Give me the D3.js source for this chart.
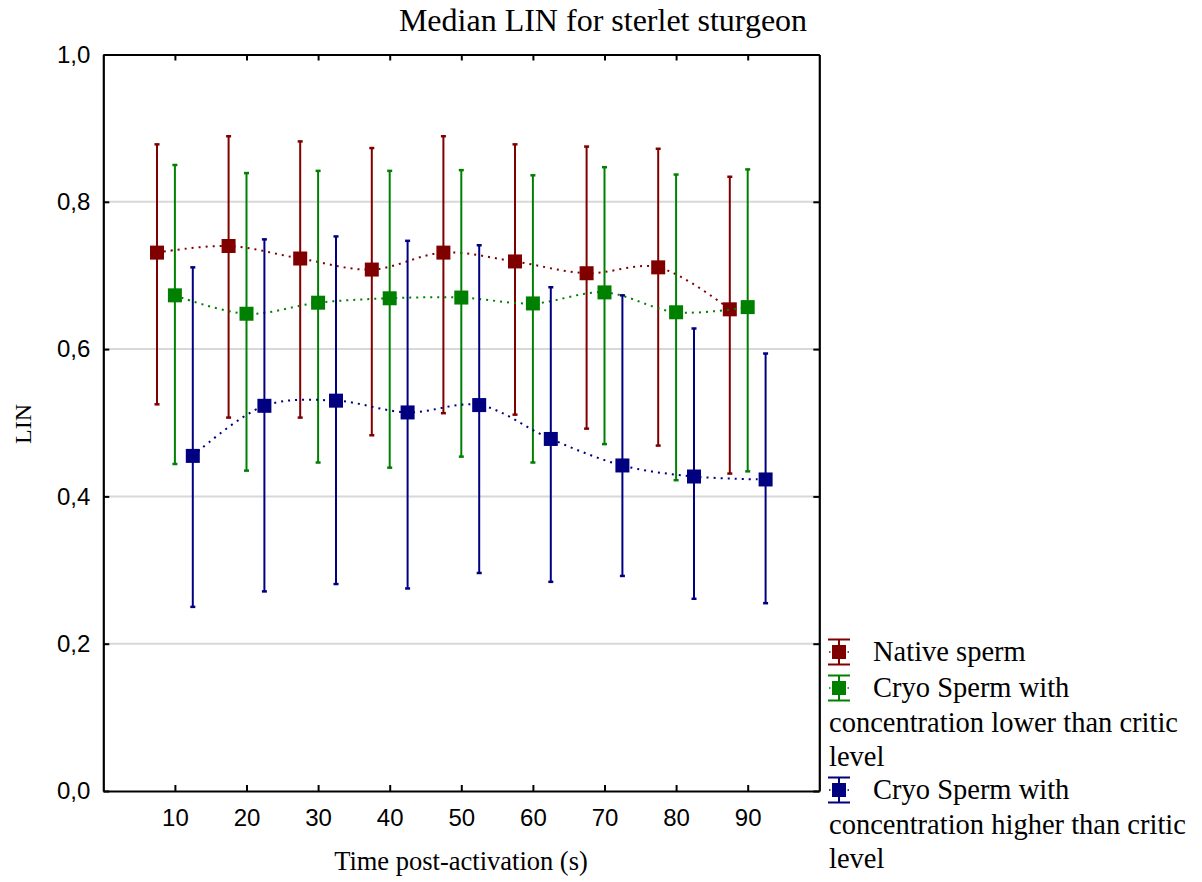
<!DOCTYPE html>
<html>
<head>
<meta charset="utf-8">
<script src="https://cdn.jsdelivr.net/npm/d3@7"></script>
<style>
  body { margin: 0; background: #fff; }
  svg { display: block; }
</style>
</head>
<body>
<svg id="chart" width="1202" height="882"></svg>
<script>
// ---- data ----
const times = [10, 20, 30, 40, 50, 60, 70, 80, 90];
const xTicks = [10, 20, 30, 40, 50, 60, 70, 80, 90];
const yTicks = [0, 0.2, 0.4, 0.6, 0.8, 1.0];

const nativeMedian = [0.731, 0.740, 0.723, 0.708, 0.731, 0.719, 0.703, 0.711, 0.654];
const nativeLow    = [0.525, 0.507, 0.507, 0.483, 0.513, 0.511, 0.492, 0.469, 0.431];
const nativeHigh   = [0.878, 0.889, 0.882, 0.873, 0.889, 0.878, 0.875, 0.872, 0.834];

const cryoLowMedian = [0.673, 0.648, 0.663, 0.669, 0.670, 0.662, 0.677, 0.650, 0.657];
const cryoLowLow    = [0.444, 0.435, 0.446, 0.439, 0.454, 0.446, 0.471, 0.422, 0.434];
const cryoLowHigh   = [0.850, 0.839, 0.842, 0.842, 0.843, 0.836, 0.847, 0.837, 0.844];

const cryoHighMedian = [0.455, 0.523, 0.530, 0.514, 0.524, 0.478, 0.442, 0.427, 0.423];
const cryoHighLow    = [0.250, 0.271, 0.281, 0.275, 0.296, 0.284, 0.292, 0.261, 0.255];
const cryoHighHigh   = [0.711, 0.749, 0.753, 0.747, 0.741, 0.684, 0.673, 0.628, 0.594];

const seriesNames = ["Native sperm", "Cryo Sperm with concentration lower than critic level", "Cryo Sperm with concentration higher than critic level"];
const seriesOffsets = [-2.5, 0, 2.5];
const seriesColors = ["#800000", "#008000", "#000080"];

const titleText = "Median LIN for sterlet sturgeon";
const xLabel = "Time post-activation (s)";
const yLabel = "LIN";

// ---- build ----
const series = [
  {name: seriesNames[0], med: nativeMedian, lo: nativeLow, hi: nativeHigh, off: seriesOffsets[0], color: seriesColors[0]},
  {name: seriesNames[1], med: cryoLowMedian, lo: cryoLowLow, hi: cryoLowHigh, off: seriesOffsets[1], color: seriesColors[1]},
  {name: seriesNames[2], med: cryoHighMedian, lo: cryoHighLow, hi: cryoHighHigh, off: seriesOffsets[2], color: seriesColors[2]}
];

const svg = d3.select("#chart");
const plot = {left: 103.3, right: 819.3, top: 54.5, bottom: 791};

const x = d3.scaleLinear().domain([0, 100]).range([plot.left, plot.right]);
const y = d3.scaleLinear().domain([0, 1]).range([plot.bottom, plot.top]);

const serif = "'Liberation Serif', 'Times New Roman', serif";
const sans = "'Liberation Sans', Arial, sans-serif";

// gridlines
svg.append("g").selectAll("line").data(yTicks.filter(v => v > 0 && v < 1)).join("line")
  .attr("x1", plot.left).attr("x2", plot.right)
  .attr("y1", d => y(d)).attr("y2", d => y(d))
  .attr("stroke", "#d8d8d8").attr("stroke-width", 2);

// axes (ticks inward)
const fmt = d => d3.format(".1f")(d).replace(".", ",");
const axBottom = svg.append("g").attr("transform", `translate(0,${plot.bottom})`)
  .call(d3.axisBottom(x).tickValues(xTicks).tickSizeInner(-6).tickSizeOuter(0).tickPadding(18));
const axTop = svg.append("g").attr("transform", `translate(0,${plot.top})`)
  .call(d3.axisTop(x).tickValues(xTicks).tickSizeInner(-6).tickSizeOuter(0).tickFormat(""));
const axLeft = svg.append("g").attr("transform", `translate(${plot.left},0)`)
  .call(d3.axisLeft(y).tickValues(yTicks).tickSizeInner(-6).tickSizeOuter(0).tickPadding(13).tickFormat(fmt));
const axRight = svg.append("g").attr("transform", `translate(${plot.right},0)`)
  .call(d3.axisRight(y).tickValues(yTicks).tickSizeInner(-6).tickSizeOuter(0).tickFormat(""));

[axBottom, axTop, axLeft, axRight].forEach(g => {
  g.select(".domain").attr("stroke", "#000").attr("stroke-width", 2.2);
  g.selectAll(".tick line").attr("stroke", "#000").attr("stroke-width", 2);
  g.selectAll("text").attr("font-family", sans).attr("font-size", 24).attr("fill", "#000");
});

// series
const line = d3.line().curve(d3.curveCatmullRom.alpha(0.5));
series.forEach(s => {
  const pts = times.map((t, i) => [x(t + s.off), y(s.med[i])]);
  const g = svg.append("g");
  g.append("path").attr("d", line(pts)).attr("fill", "none")
    .attr("stroke", s.color).attr("stroke-width", 2)
    .attr("stroke-dasharray", "2,5");
  times.forEach((t, i) => {
    const cx = x(t + s.off);
    g.append("line").attr("x1", cx).attr("x2", cx)
      .attr("y1", y(s.lo[i])).attr("y2", y(s.hi[i]))
      .attr("stroke", s.color).attr("stroke-width", 2);
    [s.lo[i], s.hi[i]].forEach(v => {
      g.append("line").attr("x1", cx - 2.5).attr("x2", cx + 2.5)
        .attr("y1", y(v)).attr("y2", y(v))
        .attr("stroke", s.color).attr("stroke-width", 2.5);
    });
  });
  g.selectAll("rect.m").data(times).join("rect").attr("class", "m")
    .attr("x", (t) => x(t + s.off) - 7)
    .attr("y", (t, i) => y(s.med[i]) - 7)
    .attr("width", 14).attr("height", 14)
    .attr("fill", s.color);
});

// title & axis labels
svg.append("text").attr("x", 603).attr("y", 31).attr("text-anchor", "middle")
  .attr("font-family", serif).attr("font-size", 32).text(titleText);
svg.append("text").attr("x", 461).attr("y", 870).attr("text-anchor", "middle")
  .attr("font-family", serif).attr("font-size", 26.5).text(xLabel);
svg.append("text").attr("transform", "translate(31,424) rotate(-90)").attr("text-anchor", "middle")
  .attr("font-family", serif).attr("font-size", 24).text(yLabel);

// legend
const legendRows = [
  {s: 0, lines: ["Native sperm"], y: 652},
  {s: 1, lines: ["Cryo Sperm with", "concentration lower than critic", "level"], y: 688},
  {s: 2, lines: ["Cryo Sperm with", "concentration higher than critic", "level"], y: 790}
];
const lg = svg.append("g");
const lineH = 34.5;
legendRows.forEach(r => {
  const c = seriesColors[r.s];
  const cx = 839, cy = r.y;
  lg.append("line").attr("x1", cx - 10).attr("x2", cx + 10).attr("y1", cy).attr("y2", cy)
    .attr("stroke", c).attr("stroke-width", 1.5).attr("stroke-dasharray", "1.5,17");
  lg.append("line").attr("x1", cx).attr("x2", cx).attr("y1", cy - 12.5).attr("y2", cy + 12.5)
    .attr("stroke", c).attr("stroke-width", 2);
  [cy - 12.5, cy + 12.5].forEach(yy => lg.append("line").attr("x1", cx - 11).attr("x2", cx + 11)
    .attr("y1", yy).attr("y2", yy).attr("stroke", c).attr("stroke-width", 2));
  lg.append("rect").attr("x", cx - 7).attr("y", cy - 7).attr("width", 14).attr("height", 14).attr("fill", c);
  r.lines.forEach((t, k) => {
    lg.append("text").attr("x", k === 0 ? 873 : 829).attr("y", cy + 9 + k * lineH)
      .attr("font-family", serif).attr("font-size", 28.5).attr("fill", "#000").text(t);
  });
});
</script>
</body>
</html>
